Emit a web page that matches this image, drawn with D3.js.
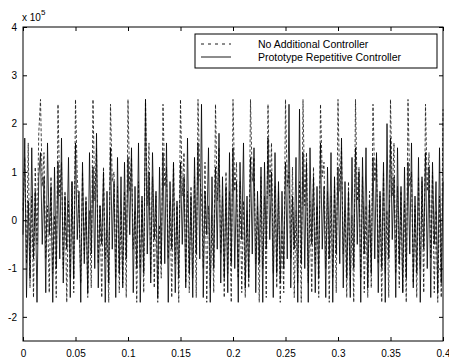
<!DOCTYPE html>
<html>
<head>
<meta charset="utf-8">
<script src="https://cdn.jsdelivr.net/npm/d3@7"></script>
<style>
  body { margin: 0; background: #fff; }
  svg text { font-family: "Liberation Sans", Arial, sans-serif; fill: #000; }
</style>
</head>
<body>
<svg id="chart" width="449" height="363"></svg>
<script>
// time axis (seconds), samples every 1/600 s
const sampleStep = 1 / 600;
const xTicks = [0, 0.05, 0.1, 0.15, 0.2, 0.25, 0.3, 0.35, 0.4];
const yTicks = [-2, -1, 0, 1, 2, 3, 4];
const seriesNames = ["No Additional Controller", "Prototype Repetitive Controller"];

// values in units of 10^5, one row per 60 Hz cycle
const noController = [
  0.2, 1.3, -0.9, 1.6, -1.4, 0.5, -1.6, 1.1, -0.5, 1.8,
  2.5, 0.7, 1.4, -0.8, 0.3, -1.5, 0.9, -1.1, 0.1, -1.6,
  2.4, 0.5, 1.2, -1.0, 0.6, -1.7, 0.4, -1.2, 0.8, -1.5,
  2.5, 0.9, 0.2, -1.3, 1.0, -0.7, 0.5, -1.6, 0.2, -1.4,
  2.5, 0.4, 1.5, -0.9, 0.3, -1.6, 1.1, -0.8, -0.2, -1.7,
  2.4, 0.8, 1.0, -1.2, 0.7, -1.5, 0.2, -1.3, 0.6, -1.6,
  2.5, 0.6, 1.3, -0.6, 0.2, -1.7, 0.8, -1.0, 0.4, -1.5,
  2.5, 0.3, 1.6, -1.1, 0.9, -1.4, 0.5, -1.7, -0.1, -1.2,
  2.4, 0.7, 1.1, -0.8, 0.4, -1.6, 1.2, -0.9, 0.3, -1.7,
  2.5, 0.5, 1.4, -1.3, 0.6, -1.5, 0.7, -1.2, 0.9, -1.6,
  2.5, 0.9, 0.5, -1.0, 1.2, -1.7, 0.3, -1.4, 0.1, -1.5,
  2.4, 0.4, 1.5, -0.7, 0.5, -1.6, 1.0, -1.1, 0.6, -1.7,
  2.5, 0.6, 1.2, -1.2, 0.8, -1.5, 0.4, -1.6, 0.2, -1.4,
  2.5, 0.8, 1.3, -0.9, 0.3, -1.7, 0.9, -1.0, 0.5, -1.6,
  2.4, 0.5, 1.6, -1.1, 0.7, -1.4, 0.6, -1.7, -0.2, -1.5,
  2.5, 0.7, 1.0, -0.8, 1.1, -1.6, 0.2, -1.3, 0.8, -1.7,
  2.5, 0.3, 1.4, -1.3, 0.4, -1.5, 1.1, -0.9, 0.3, -1.6,
  2.4, 0.9, 1.2, -1.0, 0.6, -1.7, 0.5, -1.2, 0.7, -1.5,
  2.5, 0.6, 1.5, -0.7, 0.2, -1.6, 0.8, -1.4, 0.1, -1.7,
  2.5, 0.4, 1.1, -1.2, 0.9, -1.5, 0.3, -1.6, 0.6, -1.4,
  2.4, 0.8, 1.3, -0.9, 0.5, -1.7, 1.0, -1.1, 0.2, -1.6,
  2.5, 0.5, 1.6, -1.1, 0.7, -1.4, 0.6, -1.5, 0.4, -1.7,
  2.5, 0.7, 1.0, -1.3, 0.3, -1.6, 0.9, -1.0, 0.8, -1.5,
  2.4, 0.6, 1.4, -0.8, 1.0, -1.5, 0.2, -1.7, 0.5, -1.6,
  2.3
];

const repetitive = [
  -0.3, 1.7, -1.6, 0.4, -1.2, 1.5, -0.8, 0.6, -1.7, 0.9,
  1.4, -0.5, 0.9, -1.5, 1.6, -0.3, 0.7, -1.7, 1.1, -1.0,
  1.2, -0.8, 1.7, -1.3, 0.5, -0.6, 1.3, -1.6, 0.8, -1.2,
  1.6, -0.4, 0.6, -1.7, 1.2, -0.9, 0.4, -1.5, 1.4, -0.7,
  1.1, -1.0, 1.8, -1.4, 0.3, -0.5, 1.0, -1.7, 0.6, -1.3,
  1.5, -0.6, 0.8, -1.6, 1.3, -1.1, 0.9, -1.4, 1.2, -0.8,
  1.3, -0.3, 1.5, -1.5, 0.7, -1.0, 1.6, -1.7, 0.5, -1.1,
  2.5, -0.7, 1.0, -1.3, 1.4, -0.4, 0.6, -1.6, 1.1, -0.9,
  1.4, -0.9, 1.6, -1.7, 0.8, -0.6, 1.2, -1.5, 0.4, -1.2,
  1.2, -0.5, 0.9, -1.4, 1.7, -1.1, 0.5, -1.6, 1.3, -0.7,
  1.6, -0.8, 2.4, -1.6, 0.6, -0.3, 1.5, -1.7, 0.9, -1.0,
  1.1, -0.6, 1.8, -1.3, 0.9, -1.2, 0.7, -1.5, 1.4, -0.9,
  1.5, -1.0, 0.8, -1.7, 1.2, -0.4, 1.6, -1.4, 0.5, -1.2,
  1.3, -0.7, 1.5, -1.5, 0.6, -0.9, 1.1, -1.7, 1.2, -0.6,
  1.7, -0.4, 1.0, -1.6, 1.4, -1.1, 0.8, -1.3, 0.6, -1.0,
  1.2, -0.8, 2.4, -1.4, 0.5, -0.6, 1.3, -1.7, 2.3, -0.9,
  1.4, -1.0, 1.2, -1.7, 1.5, -0.5, 0.9, -1.5, 0.7, -1.2,
  1.6, -0.6, 0.7, -1.6, 1.1, -0.8, 1.4, -1.7, 0.9, -0.7,
  1.1, -0.9, 1.7, -1.4, 0.8, -1.2, 0.6, -1.6, 1.3, -1.0,
  1.5, -0.5, 1.0, -1.7, 1.3, -0.7, 1.5, -1.4, 0.4, -1.1,
  1.3, -0.8, 1.4, -1.5, 0.6, -1.0, 1.2, -1.7, 2.0, -0.8,
  1.7, -0.4, 0.9, -1.6, 1.5, -0.9, 0.7, -1.5, 1.1, -1.2,
  1.2, -0.7, 1.6, -1.4, 0.5, -1.1, 1.3, -1.7, 0.9, -0.6,
  1.4, -1.0, 1.1, -1.6, 1.2, -0.5, 0.8, -1.5, 1.5, -1.3,
  0.8
];

const margin = {left: 23, right: 6, top: 27, bottom: 22};
const width = 449, height = 363;

const svg = d3.select("#chart");

const x = d3.scaleLinear()
  .domain([0, 0.4])
  .range([margin.left, width - margin.right]);

const y = d3.scaleLinear()
  .domain([-2.5, 4])
  .range([height - margin.bottom, margin.top]);

// SIGNALS
const line = d3.line()
  .x((d, i) => x(i * sampleStep))
  .y(d => y(d));

svg.append("path")
  .datum(noController)
  .attr("d", line)
  .attr("fill", "none")
  .attr("stroke", "#111")
  .attr("stroke-width", 0.8)
  .attr("stroke-dasharray", "3,2");

svg.append("path")
  .datum(repetitive)
  .attr("d", line)
  .attr("fill", "none")
  .attr("stroke", "#000")
  .attr("stroke-width", 0.8);

// AXES (matlab style box, ticks inside)
const plotH = y.range()[0] - y.range()[1];
const plotW = x.range()[1] - x.range()[0];

svg.append("g")
  .attr("transform", `translate(0, ${y(-2.5)})`)
  .call(d3.axisBottom(x).tickValues(xTicks).tickSize(-4).tickPadding(9)
    .tickFormat(d => d === 0 ? "0" : d3.format(".2~f")(d)))
  .call(g => g.select(".domain").remove());

svg.append("g")
  .attr("transform", `translate(0, ${y(4)})`)
  .call(d3.axisTop(x).tickValues(xTicks).tickSize(-4).tickFormat(""))
  .call(g => g.select(".domain").remove());

svg.append("g")
  .attr("transform", `translate(${x(0)}, 0)`)
  .call(d3.axisLeft(y).tickValues(yTicks).tickSize(-4).tickPadding(6)
    .tickFormat(d => d < 0 ? "-" + Math.abs(d) : String(d)))
  .call(g => g.select(".domain").remove());

svg.append("g")
  .attr("transform", `translate(${x(0.4)}, 0)`)
  .call(d3.axisRight(y).tickValues(yTicks).tickSize(-4).tickFormat(""))
  .call(g => g.select(".domain").remove());

svg.selectAll(".tick text").attr("font-size", 10).attr("font-family", "Liberation Sans, Arial, sans-serif");
svg.selectAll(".tick line").attr("stroke", "#000");

svg.append("rect")
  .attr("x", x(0)).attr("y", y(4))
  .attr("width", plotW).attr("height", plotH)
  .attr("fill", "none").attr("stroke", "#000").attr("stroke-width", 1);

// exponent label
const expLabel = svg.append("text")
  .attr("x", x(0) - 1).attr("y", y(4) - 6)
  .attr("font-size", 10);
expLabel.append("tspan").text("x 10");
expLabel.append("tspan").attr("dy", -6).attr("font-size", 8).text("5");

// LEGEND
const legend = svg.append("g").attr("transform", "translate(195, 34)");
legend.append("rect")
  .attr("width", 242).attr("height", 34)
  .attr("fill", "#fff").attr("stroke", "#000").attr("stroke-width", 1);

const legendRows = legend.selectAll("g.row")
  .data(seriesNames)
  .join("g")
  .attr("class", "row")
  .attr("transform", (d, i) => `translate(0, ${10 + i * 13})`);

legendRows.append("line")
  .attr("x1", 6).attr("x2", 36)
  .attr("stroke", "#000").attr("stroke-width", 0.9)
  .attr("stroke-dasharray", (d, i) => i === 0 ? "3,4" : null);

legendRows.append("text")
  .attr("x", 63).attr("dy", "0.35em")
  .attr("font-size", 10.5)
  .text(d => d);
</script>
</body>
</html>
